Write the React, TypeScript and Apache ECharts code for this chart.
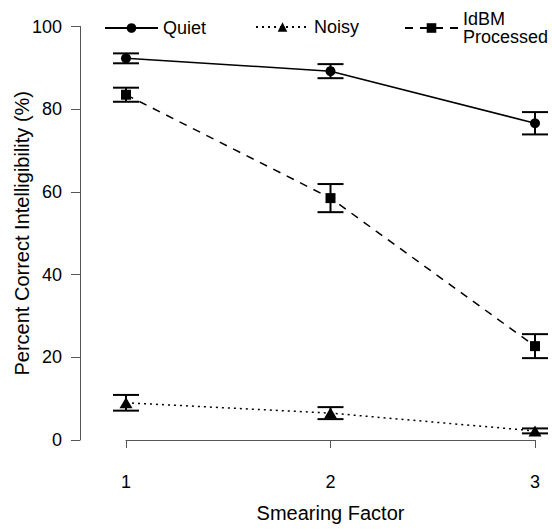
import React, { useEffect, useRef } from "react";
import * as echarts from "echarts";

const smearing = [1, 2, 3];
const quiet = [92.3, 89.2, 76.6];
const quietErr = [1.2, 1.7, 2.7];
const noisy = [9.0, 6.5, 2.2];
const noisyErr = [1.9, 1.45, 0.6];
const idbm = [83.5, 58.5, 22.7];
const idbmErr = [1.7, 3.4, 2.9];
const yTicks = [0, 20, 40, 60, 80, 100];
const seriesNames = ["Quiet", "Noisy", "IdBM Processed"];

const FONT = "Liberation Sans, Arial, sans-serif";
const INK = "#000";
const AXIS = "#555";

function errData(vals: number[], errs: number[]) {
  return smearing.map((x, i) => [x, vals[i] - errs[i], vals[i] + errs[i]]);
}

function errSeries(name: string, vals: number[], errs: number[]) {
  return {
    type: "custom",
    name: name + " err",
    z: 3,
    clip: false,
    silent: true,
    data: errData(vals, errs),
    renderItem: (params: any, api: any) => {
      const x = api.value(0);
      const lo = api.coord([x, api.value(1)]);
      const hi = api.coord([x, api.value(2)]);
      const hw = 13;
      const st = { stroke: INK, lineWidth: 2 };
      return {
        type: "group",
        children: [
          { type: "line", shape: { x1: lo[0], y1: lo[1], x2: hi[0], y2: hi[1] }, style: st },
          { type: "line", shape: { x1: lo[0] - hw, y1: lo[1], x2: lo[0] + hw, y2: lo[1] }, style: st },
          { type: "line", shape: { x1: hi[0] - hw, y1: hi[1], x2: hi[0] + hw, y2: hi[1] }, style: st },
        ],
      };
    },
  };
}

function lineSeries(name: string, vals: number[], symbol: string, size: any, dash: any) {
  return {
    type: "line",
    name,
    z: 4,
    clip: false,
    data: smearing.map((x, i) => [x, vals[i]]),
    symbol,
    symbolSize: size,
    showAllSymbol: true,
    itemStyle: { color: INK, borderWidth: 0 },
    lineStyle: { color: INK, width: 1.5, type: dash },
  };
}

export default function App() {
  const ref = useRef<HTMLDivElement>(null);
  useEffect(() => {
    if (!ref.current) return;
    const chart = echarts.init(ref.current, undefined, { renderer: "svg" });
    const legendBase = {
      orient: "horizontal",
      itemWidth: 53,
      itemHeight: 12,
      itemGap: 0,
      padding: 0,
      selectedMode: false,
      textStyle: { fontFamily: FONT, fontSize: 18, color: INK },
    };
    chart.setOption({
      animation: false,
      backgroundColor: "#fff",
      grid: { left: 126, right: 17, top: 26.5, bottom: 91, containLabel: false, outerBoundsMode: "none" },
      legend: [
        { ...legendBase, data: [seriesNames[0]], left: 104, top: 19 },
        { ...legendBase, data: [seriesNames[1]], left: 255, top: 18 },
        {
          ...legendBase,
          data: [seriesNames[2]],
          left: 404,
          top: 10,
          formatter: () => "IdBM\nProcessed",
          textStyle: { ...legendBase.textStyle, lineHeight: 18 },
        },
      ],
      xAxis: {
        type: "value",
        min: 1,
        max: 3,
        interval: 1,
        offset: 17,
        name: "Smearing Factor",
        nameLocation: "middle",
        nameGap: 46,
        nameMoveOverlap: false,
        nameTextStyle: { fontFamily: FONT, fontSize: 20, color: INK },
        axisLine: { show: true, lineStyle: { color: AXIS, width: 1 } },
        axisTick: { show: true, length: 8, lineStyle: { color: AXIS } },
        axisLabel: { fontFamily: FONT, fontSize: 18, color: INK, margin: 16 },
        splitLine: { show: false },
      },
      yAxis: {
        type: "value",
        min: 0,
        max: 100,
        interval: 20,
        offset: 46,
        name: "Percent Correct Intelligibility (%)",
        nameLocation: "middle",
        nameGap: 48,
        nameMoveOverlap: false,
        nameTextStyle: { fontFamily: FONT, fontSize: 20, color: INK },
        axisLine: { show: true, lineStyle: { color: AXIS, width: 1 } },
        axisTick: { show: true, length: 9, lineStyle: { color: AXIS } },
        axisLabel: {
          fontFamily: FONT,
          fontSize: 18,
          color: INK,
          margin: 18,
          formatter: (v: number) => (yTicks.includes(v) ? String(v) : ""),
        },
        splitLine: { show: false },
      },
      series: [
        errSeries(seriesNames[0], quiet, quietErr),
        errSeries(seriesNames[1], noisy, noisyErr),
        errSeries(seriesNames[2], idbm, idbmErr),
        lineSeries(seriesNames[0], quiet, "circle", 10, "solid"),
        lineSeries(seriesNames[1], noisy, "triangle", [13, 11], [2, 4]),
        lineSeries(seriesNames[2], idbm, "rect", 10, [8, 7]),
      ],
    });
    return () => chart.dispose();
  }, []);
  return <div ref={ref} style={{ width: 552, height: 531, position: "absolute", left: 0, top: 0 }} />;
}
